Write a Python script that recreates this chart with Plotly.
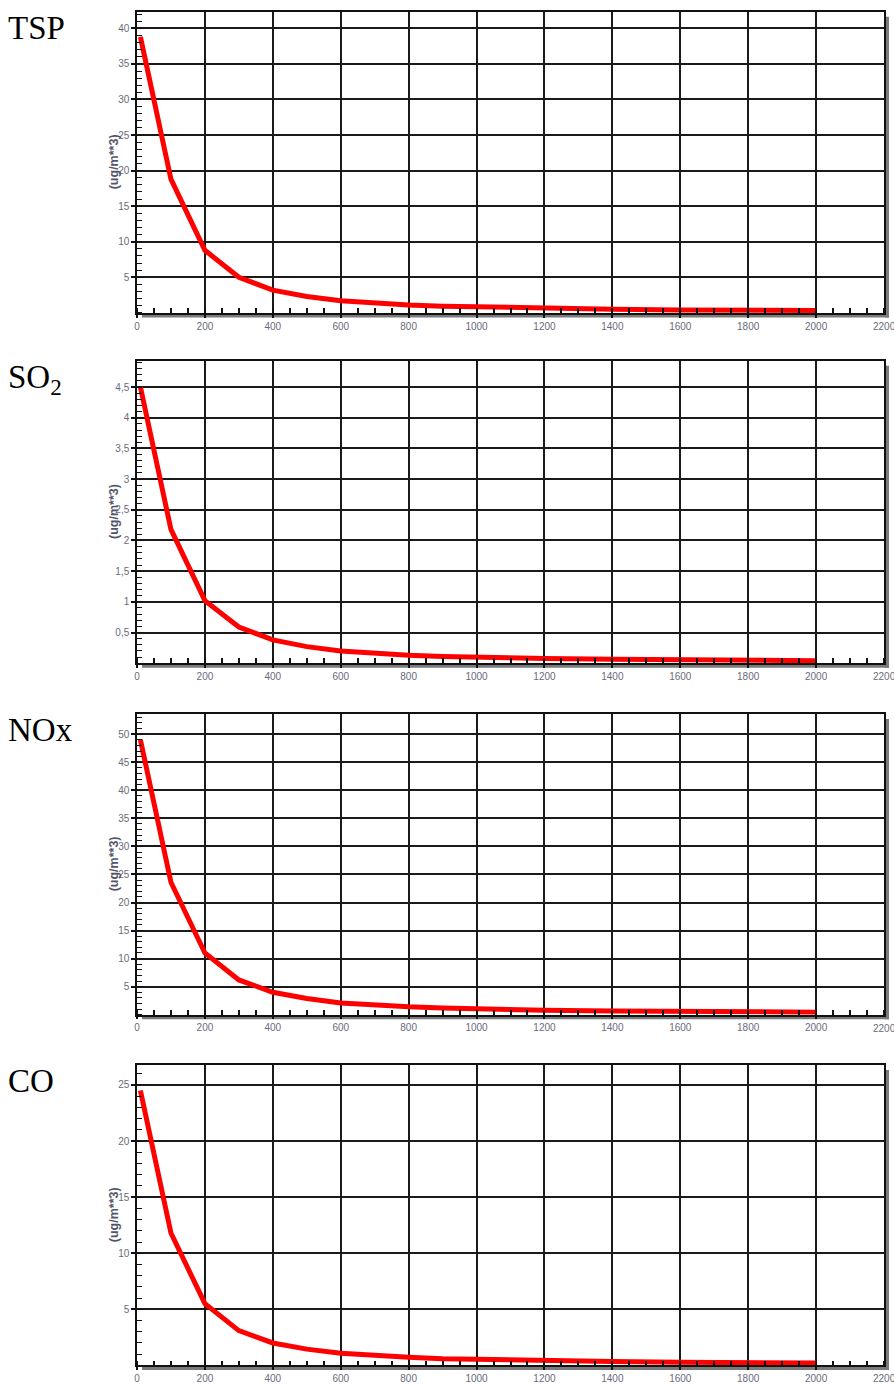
import plotly.graph_objects as go

# ---------------- data ----------------
distance = [10, 100, 200, 300, 400, 500, 600, 700, 800, 900, 1000, 1200, 1400, 1600, 1800, 2000]

tsp = [38.8, 18.8, 8.8, 5.0, 3.2, 2.3, 1.7, 1.35, 1.1, 0.95, 0.83, 0.62, 0.52, 0.42, 0.38, 0.35]
so2 = [4.5, 2.18, 1.02, 0.59, 0.38, 0.27, 0.20, 0.16, 0.13, 0.11, 0.095, 0.075, 0.065, 0.05, 0.045, 0.04]
nox = [49.0, 23.6, 11.0, 6.2, 4.0, 2.9, 2.1, 1.7, 1.4, 1.2, 1.05, 0.8, 0.68, 0.55, 0.5, 0.45]
co = [24.5, 11.8, 5.5, 3.1, 2.0, 1.45, 1.08, 0.85, 0.72, 0.6, 0.53, 0.4, 0.34, 0.28, 0.25, 0.22]

panel_names = ["TSP", "SO<sub>2</sub>", "NOx", "CO"]
y_title = "(ug/m**3)"

x_tickvals = [0, 200, 400, 600, 800, 1000, 1200, 1400, 1600, 1800, 2000]
x_ticktext = ["0", "200", "400", "600", "800", "1000", "1200", "1400", "1600", "1800", "2000"]
x_last_tick = 2200
x_last_text = "2200"

tsp_tickvals = [5, 10, 15, 20, 25, 30, 35, 40]
tsp_ticktext = ["5", "10", "15", "20", "25", "30", "35", "40"]
so2_tickvals = [0.5, 1, 1.5, 2, 2.5, 3, 3.5, 4, 4.5]
so2_ticktext = ["0,5", "1", "1,5", "2", "2,5", "3", "3,5", "4", "4,5"]
nox_tickvals = [5, 10, 15, 20, 25, 30, 35, 40, 45, 50]
nox_ticktext = ["5", "10", "15", "20", "25", "30", "35", "40", "45", "50"]
co_tickvals = [5, 10, 15, 20, 25]
co_ticktext = ["5", "10", "15", "20", "25"]

# ---------------- layout geometry (pixels) ----------------
W, H = 894, 1384
X_LEFT, X_RIGHT = 137, 884
panels_px = [(11.7, 312.9), (360.7, 663.2), (714.0, 1014.7), (1065.0, 1365.4)]
y_ranges = [42.34, 4.93, 53.6, 26.78]
minor_dy = [1, 0.1, 1, 1]
series = [tsp, so2, nox, co]
ticks = [(tsp_tickvals, tsp_ticktext), (so2_tickvals, so2_ticktext),
         (nox_tickvals, nox_ticktext), (co_tickvals, co_ticktext)]

def py(p):
    return 1 - p / H

def px(p):
    return p / W

fig = go.Figure()
label_font = dict(family="Liberation Sans, Arial", size=10, color="#6a6a7c")
shapes = []
annotations = []

for i in range(4):
    n = "" if i == 0 else str(i + 1)
    top, bot = panels_px[i]
    fig.add_trace(go.Scatter(
        x=distance, y=series[i], mode="lines",
        line=dict(color="#ff0000", width=5),
        xaxis="x" + n, yaxis="y" + n, showlegend=False,
        hoverinfo="x+y",
    ))
    fig.layout["xaxis" + n] = dict(
        domain=[px(X_LEFT), px(X_RIGHT)], anchor="y" + n,
        range=[0, 2200], tickvals=x_tickvals, ticktext=x_ticktext,
        showgrid=True, gridcolor="#1a1a1a", gridwidth=1.5,
        showline=True, linecolor="#111111", linewidth=1.5, mirror=True,
        ticks="outside", ticklen=3, tickwidth=1.5, tickcolor="#111111",
        tickfont=label_font, zeroline=False, fixedrange=True, automargin=False,
        minor=dict(dtick=50, tick0=0, ticks="inside", ticklen=5,
                   tickwidth=1.5, tickcolor="#111111", showgrid=False),
    )
    fig.layout["yaxis" + n] = dict(
        domain=[py(bot), py(top)], anchor="x" + n,
        range=[0, y_ranges[i]], tickvals=ticks[i][0], ticktext=ticks[i][1],
        showgrid=True, gridcolor="#1a1a1a", gridwidth=1.5,
        showline=True, linecolor="#111111", linewidth=1.5, mirror=True,
        ticks="outside", ticklen=4, tickwidth=1.5, tickcolor="#111111",
        tickfont=label_font, zeroline=False, fixedrange=True, automargin=False,
        minor=dict(dtick=minor_dy[i], tick0=0, ticks="inside", ticklen=5,
                   tickwidth=1.2, tickcolor="#111111", showgrid=False),
    )
    # 3D-like shadow bands (bottom and right)
    shapes.append(dict(type="rect", xref="paper", yref="paper", layer="below",
                       x0=px(X_LEFT + 5), x1=px(X_RIGHT + 5),
                       y0=py(bot + 4.5), y1=py(bot + 1),
                       fillcolor="#7a7a7a", line=dict(width=0)))
    shapes.append(dict(type="rect", xref="paper", yref="paper", layer="below",
                       x0=px(X_RIGHT + 1), x1=px(X_RIGHT + 5),
                       y0=py(bot + 4.5), y1=py(top + 5),
                       fillcolor="#7a7a7a", line=dict(width=0)))
    # last x tick label at the right edge (partly outside the page in the reference)
    annotations.append(dict(
        text=x_last_text, showarrow=False,
        xref="x" + n, yref="paper", x=x_last_tick, y=py(bot + 6),
        xanchor="center", yanchor="top", font=label_font,
    ))
    # y-axis title
    annotations.append(dict(
        text="<b>" + y_title + "</b>", textangle=-90, showarrow=False,
        xref="paper", yref="paper", x=px(114), y=py((top + bot) / 2),
        xanchor="center", yanchor="middle",
        font=dict(family="Liberation Sans, Arial", size=12.5, color="#55556a"),
    ))
    # panel name
    annotations.append(dict(
        text=panel_names[i], showarrow=False,
        xref="paper", yref="paper", x=px(6), y=py(top - 4),
        xanchor="left", yanchor="top",
        font=dict(family="Liberation Serif, Times New Roman", size=33, color="#000000"),
    ))

fig.update_layout(
    width=W, height=H, margin=dict(l=0, r=0, t=0, b=0, autoexpand=False),
    paper_bgcolor="white", plot_bgcolor="white",
    shapes=shapes, annotations=annotations, showlegend=False,
)

fig.write_html(
    "out.html",
    config={"displayModeBar": False},
    post_script="document.body.style.margin='0';document.body.style.overflow='hidden';",
)
